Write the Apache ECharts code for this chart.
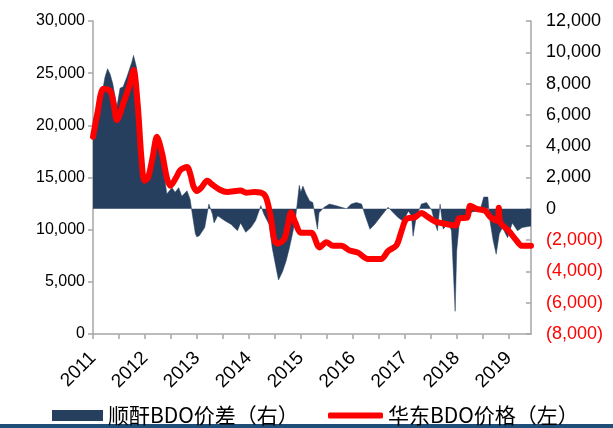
<!DOCTYPE html>
<html><head><meta charset="utf-8">
<script src="https://cdn.jsdelivr.net/npm/echarts@6/dist/echarts.min.js"></script>
<style>html,body{margin:0;padding:0;background:#fff;}#c{width:613px;height:428px;}</style>
</head><body><div id="c"></div>
<script>
// X positions are decimal years
var yearLabels = [2011, 2012, 2013, 2014, 2015, 2016, 2017, 2018, 2019];
var leftTicks = [0, 5000, 10000, 15000, 20000, 25000, 30000];
var rightTicks = [-8000, -6000, -4000, -2000, 0, 2000, 4000, 6000, 8000, 10000, 12000];

var priceName = '华东BDO价格（左）';
var spreadName = '顺酐BDO价差（右）';

var priceDates = [2011.0, 2011.08, 2011.2, 2011.33, 2011.4, 2011.46, 2011.59, 2011.7, 2011.78, 2011.86, 2011.93, 2011.99,
  2012.06, 2012.15, 2012.23, 2012.33, 2012.42, 2012.49, 2012.6, 2012.68, 2012.81, 2012.88, 2012.93,
  2013.0, 2013.08, 2013.2, 2013.3, 2013.45, 2013.58, 2013.84, 2013.95,
  2014.1, 2014.23, 2014.33, 2014.42, 2014.49, 2014.55, 2014.68, 2014.75, 2014.81, 2014.9,
  2015.0, 2015.2, 2015.36, 2015.49, 2015.62, 2015.78, 2015.94,
  2016.1, 2016.29, 2016.55, 2016.68, 2016.84, 2016.94,
  2017.03, 2017.2, 2017.32, 2017.45, 2017.58, 2017.84, 2017.98,
  2018.05, 2018.2, 2018.26, 2018.38, 2018.55, 2018.65, 2018.78, 2018.81, 2018.84,
  2019.0, 2019.15, 2019.26, 2019.43];
var priceValues = [18900, 21000, 23500, 23300, 22000, 20500, 22200, 23800, 25300, 22000, 17000, 14700,
  15000, 17000, 18900, 17300, 15000, 14200, 15000, 15700, 16000, 15200, 14200,
  13700, 14000, 14700, 14300, 13800, 13600, 13750, 13550,
  13600, 13550, 13100, 11200, 9000, 8650, 9100, 10400, 11650, 10600,
  9700, 9700, 8300, 8800, 8450, 8450, 8000,
  7800, 7200, 7200, 7950, 8500, 9900,
  11000, 11200, 11600, 11200, 10800, 10500, 10400,
  11100, 11150, 12300, 12000, 11800, 11200, 10850, 12100, 10700,
  9900, 8950, 8450, 8450];

var spreadDates = [2011.0, 2011.07, 2011.16, 2011.23, 2011.28, 2011.33, 2011.38, 2011.46, 2011.52, 2011.58, 2011.65, 2011.75, 2011.78, 2011.84, 2011.9, 2011.93, 2011.99,
  2012.1, 2012.23, 2012.33, 2012.42, 2012.52, 2012.58, 2012.65, 2012.71, 2012.81, 2012.87, 2012.9, 2012.97,
  2013.0, 2013.05, 2013.15, 2013.23, 2013.3, 2013.33, 2013.4, 2013.53, 2013.66, 2013.78, 2013.84, 2013.94,
  2014.04, 2014.13, 2014.23, 2014.29, 2014.39, 2014.45, 2014.51, 2014.57, 2014.65, 2014.72, 2014.78, 2014.84, 2014.9, 2014.97,
  2015.0, 2015.04, 2015.1, 2015.17, 2015.23, 2015.32, 2015.35, 2015.45, 2015.55, 2015.68, 2015.78, 2015.88, 2015.97,
  2016.07, 2016.17, 2016.23, 2016.33, 2016.42, 2016.55, 2016.68, 2016.78, 2016.87, 2016.97,
  2017.07, 2017.13, 2017.16, 2017.22, 2017.32, 2017.42, 2017.52, 2017.58, 2017.63, 2017.68, 2017.74, 2017.84, 2017.9, 2017.97,
  2018.0, 2018.06, 2018.2, 2018.3, 2018.45, 2018.52, 2018.6, 2018.63, 2018.7, 2018.76, 2018.82, 2018.88, 2018.98,
  2019.07, 2019.17, 2019.26, 2019.43];
var spreadValues = [5600, 6500, 7100, 8400, 8950, 8600, 8000, 6500, 7700, 7800, 8400, 9400, 9800, 9000, 6500, 2200, 1800,
  2650, 4400, 3300, 950, 1350, 1050, 1350, 800, 1150, 600, -100, -1600,
  -1800, -1700, -1200, 300, -350, -900, -450, -750, -1000, -1400, -900, -1500,
  -1200, -750, 200, -350, -1000, -2500, -3550, -4550, -4000, -3300, -2500, -1600, -550, 1500,
  1050, 1450, 950, 500, 400, -1300, -250, 100, 300, 200, 100, 0, 300,
  400, 300, -350, -1300, -1000, -450, 100, -250, -550, -800,
  -150, -450, -1750, -550, 300, 400, -100, -900, -1400, 300, -1300, -900, -1400, -6550,
  -2700, -550, -400, -200, -100, 750, 750, -550, -2000, -2900, -1600, -1200, -1850,
  -900, -1400, -1200, -1100];

function zip(a, b) { return a.map(function (x, i) { return [x, b[i]]; }); }
function fmt(v) { return Math.abs(v).toString().replace(/\B(?=(\d{3})+(?!\d))/g, ','); }

var tickFont = 'Liberation Sans';
var axisGray = '#a6a6a6';

var chart = echarts.init(document.getElementById('c'), null, { renderer: 'canvas' });
chart.setOption({
  backgroundColor: '#fff',
  animation: false,
  grid: { left: 93, right: 82, top: 21, bottom: 94 },
  legend: [{
    data: [{ name: spreadName, icon: 'rect' }],
    left: 47, top: 400, itemWidth: 51, itemHeight: 11, itemGap: 5,
    textStyle: { fontFamily: 'Noto Sans CJK SC', fontSize: 21, color: '#000' }
  }, {
    data: [{ name: priceName, icon: 'roundRect' }],
    left: 323, top: 400, itemWidth: 55, itemHeight: 6, itemGap: 5,
    textStyle: { fontFamily: 'Noto Sans CJK SC', fontSize: 21, color: '#000' }
  }],
  xAxis: {
    type: 'value', min: yearLabels[0], max: 2019.43, interval: 0.5,
    axisLine: { lineStyle: { color: axisGray, width: 1.5 } },
    axisTick: { length: 5, lineStyle: { color: axisGray, width: 1.5 } },
    splitLine: { show: false },
    axisLabel: {
      rotate: 45, fontFamily: tickFont, fontSize: 19, color: '#000', margin: 21,
      showMaxLabel: false,
      formatter: function (v) { return yearLabels.indexOf(v) >= 0 ? String(v) : ''; }
    }
  },
  yAxis: [{
    type: 'value', min: leftTicks[0], max: leftTicks[leftTicks.length - 1], interval: 5000,
    axisLine: { show: true, lineStyle: { color: axisGray, width: 1.5 } },
    axisTick: { show: true, length: 5, lineStyle: { color: axisGray, width: 1.5 } },
    splitLine: { show: false },
    axisLabel: { fontFamily: tickFont, fontSize: 16, color: '#000', margin: 8, formatter: fmt }
  }, {
    type: 'value', position: 'right', min: rightTicks[0], max: rightTicks[rightTicks.length - 1], interval: 2000,
    axisLine: { show: true, lineStyle: { color: axisGray, width: 1.5 } },
    axisTick: { show: true, inside: true, length: 5, lineStyle: { color: axisGray, width: 1.5 } },
    splitLine: { show: false },
    axisLabel: {
      fontFamily: tickFont, fontSize: 18, color: '#000', margin: 15,
      formatter: function (v) { return v < 0 ? '{neg|(' + fmt(v) + ')}' : fmt(v); },
      rich: { neg: { color: '#ff0000', fontFamily: tickFont, fontSize: 18 } }
    }
  }],
  series: [{
    name: spreadName, type: 'line', yAxisIndex: 1,
    data: zip(spreadDates, spreadValues),
    showSymbol: false, symbol: 'none',
    lineStyle: { width: 0.5, color: '#263f5f' },
    itemStyle: { color: '#263f5f' },
    areaStyle: { color: '#263f5f', opacity: 1 },
    z: 2
  }, {
    name: priceName, type: 'line', yAxisIndex: 0,
    data: zip(priceDates, priceValues),
    showSymbol: false, symbol: 'none', smooth: 0.3,
    lineStyle: { width: 6, color: '#ff0000', cap: 'round', join: 'round' },
    itemStyle: { color: '#ff0000' },
    z: 3
  }],
  graphic: [{
    type: 'rect', left: 0, top: 424, shape: { width: 613, height: 4 },
    style: { fill: '#1f4e79' }, silent: true
  }]
});
</script></body></html>
